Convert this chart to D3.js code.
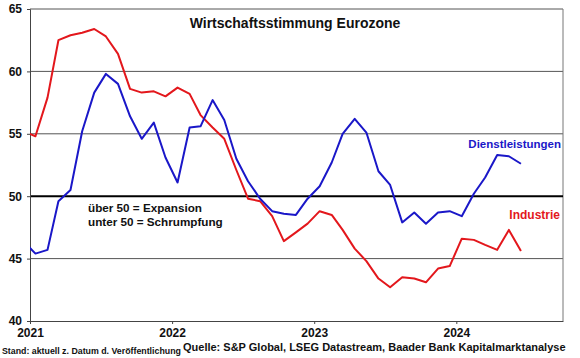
<!DOCTYPE html>
<html>
<head>
<meta charset="utf-8">
<script src="https://cdn.jsdelivr.net/npm/d3@7"></script>
<style>
  body { margin: 0; background: #fff; }
  text { font-family: "Liberation Sans", Arial, sans-serif; font-weight: bold; }
</style>
</head>
<body>
<div class="chart"></div>
<script>
// data: monthly PMI Eurozone, Dec 2020 - Jun 2024
var months = d3.range(0, 43).map(i => new Date(2020, 11 + i, 15));
var services = [46.4, 45.4, 45.7, 49.6, 50.5, 55.2, 58.3, 59.8, 59.0, 56.4, 54.6, 55.9, 53.1,
  51.1, 55.5, 55.6, 57.7, 56.1, 53.0, 51.2, 49.8, 48.8, 48.6, 48.5, 49.8,
  50.8, 52.7, 55.0, 56.2, 55.1, 52.0, 50.9, 47.9, 48.7, 47.8, 48.7, 48.8,
  48.4, 50.2, 51.5, 53.3, 53.2, 52.6];
var industry = [55.2, 54.8, 57.9, 62.5, 62.9, 63.1, 63.4, 62.8, 61.4, 58.6, 58.3, 58.4, 58.0,
  58.7, 58.2, 56.5, 55.5, 54.6, 52.1, 49.8, 49.6, 48.4, 46.4, 47.1, 47.8,
  48.8, 48.5, 47.3, 45.8, 44.8, 43.4, 42.7, 43.5, 43.4, 43.1, 44.2, 44.4,
  46.6, 46.5, 46.1, 45.7, 47.3, 45.6];
var yTicks = [40, 45, 50, 55, 60, 65];
var xTicks = [new Date(2021, 0, 1), new Date(2022, 0, 1), new Date(2023, 0, 1), new Date(2024, 0, 1)];

var W = 580, H = 358;
var margin = {top: 9, right: 17, bottom: 37, left: 30},
width = W - margin.left - margin.right,
height = H - margin.top - margin.bottom;

const svg = d3.select('.chart')
    .append('svg')
    .attr('width', W)
    .attr('height', H)

const g = svg.append('g')
    .attr('transform', 'translate('+margin.left+','+margin.top+')')

const xScale = d3.scaleTime()
    .domain([new Date(2021, 0, 1), new Date(2024, 9, 1)])
    .range([0, width])

const yScale = d3.scaleLinear()
    .domain([40, 65])
    .range([height, 0])

g.append('defs').append('clipPath').attr('id', 'clip')
    .append('rect').attr('width', width).attr('height', height)

// grid
g.append('g')
    .selectAll('line')
    .data(yTicks.filter(d => d != 40 && d != 50))
    .enter().append('line')
    .attr('x1', 0).attr('x2', width)
    .attr('y1', d => yScale(d)).attr('y2', d => yScale(d))
    .attr('stroke', '#555').attr('stroke-width', 1)

g.append('line')
    .attr('x1', width).attr('x2', width)
    .attr('y1', 0).attr('y2', height)
    .attr('stroke', '#777')

g.append('line')
    .attr('x1', 0).attr('x2', width)
    .attr('y1', yScale(50)).attr('y2', yScale(50))
    .attr('stroke', '#000').attr('stroke-width', 2)

// axes
g.append('g')
    .call(d3.axisLeft(yScale).tickValues(yTicks).tickSize(3).tickPadding(5))
    .call(a => a.select('.domain').attr('stroke', '#444'))
    .call(a => a.selectAll('.tick line').attr('stroke', '#444'))
    .call(a => a.selectAll('.tick text').attr('font-size', 12).attr('fill', '#111')
        .attr('font-family', '"Liberation Sans", Arial, sans-serif'))

g.append('g')
    .attr('transform', 'translate(0,' + height + ')')
    .call(d3.axisBottom(xScale).tickValues(xTicks).tickFormat(d3.timeFormat('%Y')).tickSize(3).tickSizeOuter(0).tickPadding(4))
    .call(a => a.select('.domain').attr('stroke', '#444'))
    .call(a => a.selectAll('.tick line').attr('stroke', '#444'))
    .call(a => a.selectAll('.tick text').attr('font-size', 12).attr('fill', '#111')
        .attr('font-family', '"Liberation Sans", Arial, sans-serif'))

const line = d3.line()
    .x((d, i) => xScale(months[i]))
    .y(d => yScale(d));

g.append('path')
    .datum(industry)
    .attr('d', line)
    .attr('clip-path', 'url(#clip)')
    .attr('fill', 'none')
    .attr('stroke', '#e3171c')
    .attr('stroke-width', 2)
    .attr('stroke-linejoin', 'round')

g.append('path')
    .datum(services)
    .attr('d', line)
    .attr('clip-path', 'url(#clip)')
    .attr('fill', 'none')
    .attr('stroke', '#1a17c8')
    .attr('stroke-width', 2)
    .attr('stroke-linejoin', 'round')

// labels
svg.append('text')
    .attr('x', 295).attr('y', 28)
    .attr('text-anchor', 'middle')
    .attr('font-size', 14)
    .attr('fill', '#111')
    .text('Wirtschaftsstimmung Eurozone')

svg.append('text')
    .attr('x', 561).attr('y', 148)
    .attr('text-anchor', 'end')
    .attr('font-size', 11.5)
    .attr('fill', '#1a17c8')
    .text('Dienstleistungen')

svg.append('text')
    .attr('x', 560).attr('y', 219)
    .attr('text-anchor', 'end')
    .attr('font-size', 12)
    .attr('fill', '#e3171c')
    .text('Industrie')

svg.append('text')
    .attr('x', 88).attr('y', 212)
    .attr('font-size', 11.7)
    .attr('fill', '#111')
    .text('über 50 = Expansion')

svg.append('text')
    .attr('x', 88).attr('y', 226)
    .attr('font-size', 11.7)
    .attr('fill', '#111')
    .text('unter 50 = Schrumpfung')

svg.append('text')
    .attr('x', 2).attr('y', 354)
    .attr('font-size', 8.8)
    .attr('fill', '#111')
    .text('Stand: aktuell z. Datum d. Veröffentlichung')

svg.append('text')
    .attr('x', 183).attr('y', 351)
    .attr('font-size', 11)
    .attr('fill', '#111')
    .text('Quelle: S&P Global, LSEG Datastream, Baader Bank Kapitalmarktanalyse')
</script>
</body>
</html>
